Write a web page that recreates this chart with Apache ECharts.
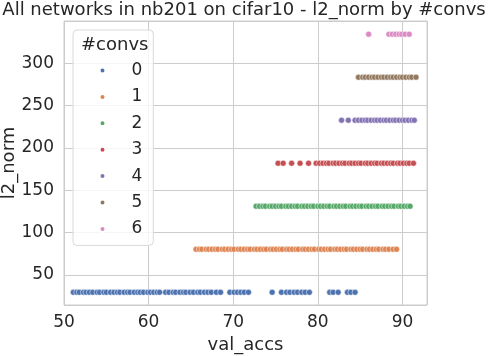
<!DOCTYPE html>
<html>
<head>
<meta charset="utf-8">
<script src="https://cdn.jsdelivr.net/npm/echarts@6/dist/echarts.min.js"></script>
<style>
  html, body { margin: 0; padding: 0; background: #fff; }
  #chart { width: 488px; height: 356px; }
</style>
</head>
<body>
<div id="chart"></div>
<script>
// 数据：每个 #convs 对应一行 val_accs，l2_norm 每组为常数
var convNames = ['0', '1', '2', '3', '4', '5', '6'];
var l2Norms = [29.6, 80.4, 131.2, 182.0, 232.8, 283.6, 334.4];

var accs0 = [51.1, 51.5, 51.8, 52.3, 52.6, 53.0, 53.4, 53.9, 54.2, 54.7, 55.0, 55.5, 55.9, 56.3, 56.6,
  57.1, 57.5, 57.8, 58.3, 58.7, 59.0, 59.4, 59.9, 60.2, 60.6, 61.0, 61.3, 62.0, 62.4, 62.9, 63.2, 63.7,
  64.1, 64.4, 64.9, 65.3, 65.8, 66.1, 66.6, 67.0, 67.4, 68.0, 68.5, 69.6, 70.1, 70.5, 70.9, 71.3, 71.8,
  74.6, 75.7, 76.3, 76.7, 77.2, 77.6, 78.1, 78.5, 79.0, 81.4, 81.8, 82.4, 83.5, 83.9, 84.4];
var accs1 = [65.6, 66.0, 66.3, 66.8, 67.1, 67.5, 67.9, 68.2, 68.7, 69.0, 69.4, 69.8, 70.1, 70.6, 70.9,
  71.3, 71.7, 72.0, 72.5, 72.8, 73.2, 73.6, 73.9, 74.4, 74.7, 75.1, 75.5, 75.8, 76.3, 76.6, 77.0, 77.4,
  77.7, 78.2, 78.5, 78.9, 79.3, 79.6, 80.1, 80.4, 80.8, 81.2, 81.5, 82.0, 82.3, 82.7, 83.1, 83.4, 83.9,
  84.2, 84.6, 85.0, 85.3, 85.8, 86.1, 86.5, 86.9, 87.2, 87.7, 88.0, 88.4, 88.9, 89.3];
var accs2 = [72.7, 73.1, 73.5, 73.8, 74.3, 74.6, 75.0, 75.4, 75.7, 76.2, 76.5, 76.9, 77.3, 77.6, 78.1,
  78.4, 78.8, 79.2, 79.5, 80.0, 80.3, 80.7, 81.1, 81.4, 81.9, 82.2, 82.6, 83.0, 83.3, 83.8, 84.1, 84.5,
  84.9, 85.2, 85.7, 86.0, 86.4, 86.8, 87.1, 87.6, 87.9, 88.3, 88.7, 89.0, 89.5, 89.8, 90.2, 90.6, 90.9];
var accs3 = [75.3, 75.9, 76.9, 77.9, 78.9, 79.8, 80.2, 80.6, 81.0, 81.3, 81.8, 82.1, 82.5, 82.9, 83.2,
  83.7, 84.0, 84.4, 84.8, 85.1, 85.6, 85.9, 86.3, 86.7, 87.0, 87.5, 87.8, 88.2, 88.6, 88.9, 89.4, 89.7,
  90.1, 90.5, 90.8, 91.3];
var accs4 = [82.8, 83.6, 84.4, 84.8, 85.2, 85.6, 85.9, 86.3, 86.7, 87.0, 87.4, 87.8, 88.1, 88.5, 88.9,
  89.2, 89.6, 90.0, 90.3, 90.7, 91.1, 91.4];
var accs5 = [84.8, 85.3, 85.6, 86.0, 86.4, 86.7, 87.1, 87.5, 87.8, 88.2, 88.6, 88.9, 89.3, 89.7, 90.0,
  90.4, 90.8, 91.1, 91.6];
var accs6 = [86.0, 88.4, 88.8, 89.2, 89.6, 89.9, 90.3, 90.8];

var accsByConv = [accs0, accs1, accs2, accs3, accs4, accs5, accs6];
var palette = ['#4c72b0', '#dd8452', '#55a868', '#c44e52', '#8172b3', '#937860', '#da8bc3'];

var textColor = '#262626';
var gridColor = '#cccccc';
var font = 'DejaVu Sans';

var myChart = echarts.init(document.getElementById('chart'));

var seriesList = convNames.map(function (name, i) {
    return {
        name: name,
        type: 'scatter',
        symbolSize: 6,
        itemStyle: { color: palette[i], borderColor: '#fff', borderWidth: 0.5, opacity: 1 },
        data: accsByConv[i].map(function (x) { return [x, l2Norms[i]]; })
    };
});

var option = {
    animation: false,
    color: palette,
    textStyle: { fontFamily: font },
    title: {
        text: 'All networks in nb201 on cifar10 - l2_norm by #convs',
        left: 'center',
        top: 1,
        padding: 0,
        textStyle: { fontSize: 18, fontWeight: 'normal', color: textColor, fontFamily: font }
    },
    grid: {
        left: 64, top: 21, right: 61, bottom: 51,
        containLabel: false, outerBoundsMode: 'none',
        show: true, borderColor: gridColor, borderWidth: 1, backgroundColor: '#fff'
    },
    legend: {
        orient: 'vertical',
        left: 73, top: 30,
        padding: [32, 11, 8, 25.5],
        itemWidth: 6, itemHeight: 6, itemGap: 9.4,
        icon: 'circle',
        backgroundColor: 'rgba(255,255,255,0.8)',
        borderColor: '#d9d9d9', borderWidth: 1, borderRadius: 4,
        textStyle: { fontSize: 17, lineHeight: 17, color: textColor, fontFamily: font, padding: [0, 0, 0, 21] },
        data: convNames
    },
    graphic: [{
        type: 'text',
        left: 113 - 32, top: 36,
        z: 100,
        style: { text: '#convs', fontSize: 18, fill: textColor, fontFamily: font }
    }],
    xAxis: {
        type: 'value',
        min: 50, max: 92.9, interval: 10,
        name: 'val_accs', nameLocation: 'middle', nameGap: 31, nameMoveOverlap: false,
        nameTextStyle: { fontSize: 18, color: textColor, fontFamily: font },
        axisLine: { show: false }, axisTick: { show: false },
        axisLabel: { fontSize: 17, color: textColor, margin: 9, showMaxLabel: false },
        splitLine: { lineStyle: { color: gridColor, width: 1 } }
    },
    yAxis: {
        type: 'value',
        min: 14.6, max: 350, splitNumber: 7,
        name: 'l2_norm', nameLocation: 'middle', nameGap: 46, nameMoveOverlap: false,
        nameTextStyle: { fontSize: 18, color: textColor, fontFamily: font },
        axisLine: { show: false }, axisTick: { show: false },
        axisLabel: { fontSize: 17, color: textColor, margin: 10, showMinLabel: false, showMaxLabel: false },
        splitLine: { lineStyle: { color: gridColor, width: 1 } }
    },
    series: seriesList
};

myChart.setOption(option);
</script>
</body>
</html>
